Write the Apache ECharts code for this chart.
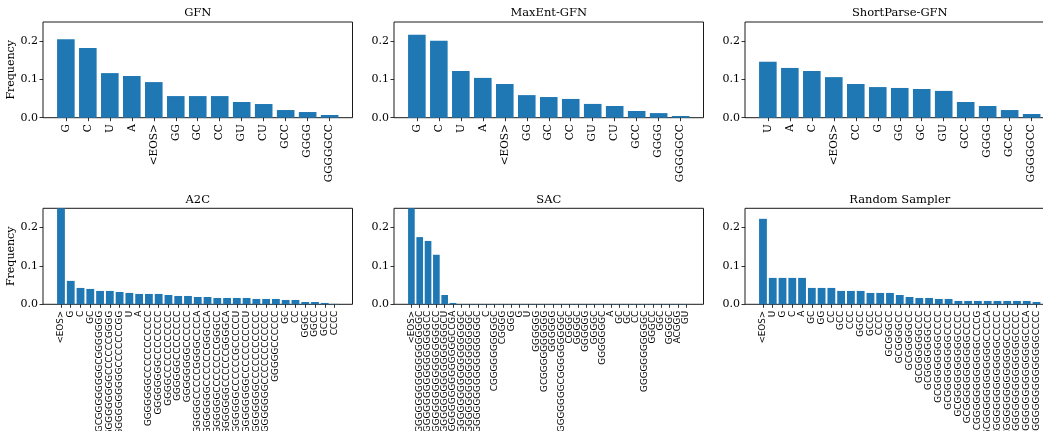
<!DOCTYPE html>
<html>
<head>
<meta charset="utf-8">
<script src="https://cdn.jsdelivr.net/npm/echarts@6/dist/echarts.min.js"></script>
<style>
  html, body { margin: 0; padding: 0; background: #fff; }
  #chart { width: 1043px; height: 431px; }
</style>
</head>
<body>
<div id="chart"></div>
<script>
// Token frequencies per sampler
const gfnLabels = ['G', 'C', 'U', 'A', '<EOS>', 'GG', 'GC', 'CC', 'GU', 'CU', 'GCC', 'GGGG', 'GGGGGCC'];
const gfnValues = [0.205, 0.182, 0.1165, 0.109, 0.093, 0.0565, 0.0565, 0.0565, 0.041, 0.0357, 0.020, 0.0148, 0.007];

const maxEntLabels = ['G', 'C', 'U', 'A', '<EOS>', 'GG', 'GC', 'CC', 'GU', 'CU', 'GCC', 'GGGG', 'GGGGGCC'];
const maxEntValues = [0.2166, 0.2009, 0.122, 0.104, 0.088, 0.059, 0.054, 0.049, 0.036, 0.0305, 0.0175, 0.012, 0.0045];

const shortParseLabels = ['U', 'A', 'C', '<EOS>', 'CC', 'G', 'GG', 'GC', 'GU', 'GCC', 'GGGG', 'GCGC', 'GGGGGCC'];
const shortParseValues = [0.146, 0.130, 0.122, 0.106, 0.088, 0.080, 0.0777, 0.075, 0.070, 0.041, 0.0305, 0.020, 0.0096];

const a2cLabels = ['<EOS>', 'G', 'C', 'GC',
  'GCGCGGGGGGGGCGGGGGGG', 'GGGGGGGGGGCCCCCCGGGG', 'GGGGGGGGGGGCCCCCCCGG',
  'U', 'A',
  'GGGGGGGCCCCCCCCCCC', 'GGGGGGGGCCCCCCCC', 'GGGGCCCCCCCCCCC', 'GGGGGGCCCCCCCC', 'GGGGGGGGCCCCCC',
  'GGGGGGCCCCCGGGGCCCCA', 'GGGGGGGGCCCCCCGGGCCA', 'GGGGGGGCCCCCCCCGGGCC', 'GGGGGGGGCCCCCCGGGGCA',
  'GGGGGGGCCCCCCGCCCCCU', 'GGGGGGGGGCCCCCCCCCCU', 'GGGGGGGGCCCCCCCCCCCC', 'GGGGGGGGCCCCCCCCCCCC',
  'GGGGGCCCCCC', 'GC', 'CC', 'GGGC', 'GGCC', 'GCCC', 'CCCC'];
const a2cValues = [0.38, 0.061, 0.0426, 0.040, 0.0348, 0.0348, 0.032, 0.0296, 0.027, 0.027, 0.027, 0.0243,
  0.0217, 0.0217, 0.019, 0.019, 0.0165, 0.0165, 0.0165, 0.0165, 0.0139, 0.0139, 0.0139, 0.0113, 0.0113,
  0.006, 0.006, 0.0035, 0.001];

const sacLabels = ['<EOS>',
  'GGGGGGGGGGGGGGGGGGGC', 'GGGGGGGGGGGGGGGGGGCC', 'GGGGGGGGGGGGGGGGGGCC', 'GGGGGGGGGGGGGGGGGGCU',
  'GGGGGGGGGGGGGGGGCCGA', 'GGGGGGGGGGGGGGGGGGGC', 'GGGGGGGGGGGGGGGGGGC', 'GGGGGGGGGGGGGGGGGGC',
  'C', 'CGGGGGGGGGGC', 'CGGGG', 'GGG', 'G', 'U', 'GGGGGG', 'GCGGGGGGGGGG', 'GGGGGG',
  'CGGGGGGGCGGGGGGGGGC', 'CGGGC', 'GGGGC', 'GGGGGG', 'GGGGC', 'GGGGGGGC',
  'A', 'GC', 'GC', 'CC', 'GGGGGGGGGGGC', 'GGGCC', 'GGC', 'GGGGC', 'ACGGG', 'GU'];
const sacValues = [0.31, 0.175, 0.165, 0.129, 0.0243, 0.0035,
  0.0008, 0.0008, 0.0008, 0.0008, 0.0008, 0.0008, 0.0008, 0.0008, 0.0008, 0.0008, 0.0008, 0.0008, 0.0008, 0.0008,
  0.0008, 0.0008, 0.0008, 0.0008, 0.0008, 0.0008, 0.0008, 0.0008, 0.0008, 0.0008, 0.0008, 0.0008, 0.0008, 0.0008];

const randomLabels = ['<EOS>', 'U', 'G', 'C', 'A', 'GC', 'GG', 'CC', 'GCC', 'CCC', 'GGCC', 'GCCC', 'CCCC',
  'GCGGGCC', 'GCGGGGCC', 'GCGGGGGCC', 'GCGGGGGGCCC', 'GCGGGGGGGCCC', 'GCGGGGGGGGCCCC', 'GCGGGGGGGGGCCCC',
  'GCGGGGGGGGGGCCCC', 'GCGGGGGGGGGGGCCCC', 'GCGGGGGGGGGGGGCCCCG', 'GCGGGGGGGGGGGGCCCCA', 'GCGGGGGGGGGGGGGCCCCC',
  'GCGGGGGGGGGGGGGCCCCC', 'GCGGGGGGGGGGGGGGCCCC', 'GCGGGGGGGGGGGGGGCCCA', 'GCGGGGGGGGGGGGGGGCCCC'];
const randomValues = [0.2226, 0.0687, 0.0687, 0.0687, 0.0687, 0.0426, 0.0426, 0.0426, 0.0348, 0.0348, 0.0348,
  0.0296, 0.0296, 0.0296, 0.0243, 0.019, 0.0165, 0.0165, 0.0139, 0.0139,
  0.0087, 0.0087, 0.0087, 0.0087, 0.0087, 0.0087, 0.0087, 0.0087, 0.006];

const yTicks = [0, 0.1, 0.2];

const SERIF = 'DejaVu Serif';
const SANS = 'DejaVu Sans';
const BAR_COLOR = '#1f77b4';

const PANEL_W = 309.5;
const COL_LEFT = [43, 394, 745];
const ROWS = [
  { top: 22, height: 95.7, titleTop: 7.5, labelFont: SERIF, labelSize: 10.5 },
  { top: 208.3, height: 96, titleTop: 193.8, labelFont: SANS, labelSize: 8.8 }
];

const panels = [
  { title: 'GFN', labels: gfnLabels, values: gfnValues, row: 0, col: 0 },
  { title: 'MaxEnt-GFN', labels: maxEntLabels, values: maxEntValues, row: 0, col: 1 },
  { title: 'ShortParse-GFN', labels: shortParseLabels, values: shortParseValues, row: 0, col: 2 },
  { title: 'A2C', labels: a2cLabels, values: a2cValues, row: 1, col: 0 },
  { title: 'SAC', labels: sacLabels, values: sacValues, row: 1, col: 1 },
  { title: 'Random Sampler', labels: randomLabels, values: randomValues, row: 1, col: 2 }
];

const grid = [], xAxis = [], yAxis = [], series = [], title = [];

panels.forEach((p, k) => {
  const row = ROWS[p.row];
  const n = p.labels.length;
  // bar-chart x limits: bars 0.8 wide with 5% margins on each side
  const span = n - 0.2;
  const xmin = -0.4 - 0.05 * span;
  const xmax = n - 0.6 + 0.05 * span;
  const barW = 0.8 * PANEL_W / (xmax - xmin);
  const idx = p.labels.map((_, i) => i);
  // blank end slots keep the min/max label pruning away from the real category labels
  const labelSlots = [xmin].concat(idx, [xmax]);

  grid.push({
    left: COL_LEFT[p.col], top: row.top, width: PANEL_W, height: row.height,
    show: true, borderColor: '#1a1a1a', borderWidth: 1, backgroundColor: 'transparent',
    containLabel: false, outerBoundsMode: 'none'
  });

  xAxis.push({
    type: 'value', gridIndex: k, min: xmin, max: xmax, position: 'bottom',
    splitLine: { show: false },
    axisLine: { show: false, onZero: false },
    axisTick: { show: true, length: 3.5, customValues: idx, lineStyle: { color: '#000', width: 0.8 } },
    axisLabel: {
      customValues: labelSlots, rotate: 90, margin: 6.5, hideOverlap: false,
      showMinLabel: false, showMaxLabel: false,
      formatter: v => (Number.isInteger(v) ? p.labels[v] : ''),
      fontFamily: row.labelFont, fontSize: row.labelSize, color: '#000'
    }
  });

  const yAx = {
    type: 'value', gridIndex: k, min: 0, max: 0.25, position: 'left',
    splitLine: { show: false },
    axisLine: { show: false, onZero: false },
    axisTick: { show: true, length: 3.5, customValues: yTicks, lineStyle: { color: '#000', width: 0.8 } },
    axisLabel: {
      customValues: yTicks, margin: 5, showMinLabel: true, showMaxLabel: true,
      formatter: v => v.toFixed(1),
      fontFamily: SERIF, fontSize: 11, color: '#000'
    }
  };
  if (p.col === 0) {
    yAx.name = 'Frequency';
    yAx.nameLocation = 'middle';
    yAx.nameGap = 25;
    yAx.nameTextStyle = { fontFamily: SERIF, fontSize: 11, color: '#000' };
  }
  yAxis.push(yAx);

  series.push({
    type: 'bar', xAxisIndex: k, yAxisIndex: k,
    data: p.values.map((v, i) => [i, v]),
    barWidth: barW, clip: true,
    itemStyle: { color: BAR_COLOR },
    silent: true
  });

  title.push({
    text: p.title,
    left: COL_LEFT[p.col] + PANEL_W / 2, top: row.titleTop,
    textAlign: 'center', padding: 0,
    textStyle: { fontFamily: SERIF, fontSize: 11.5, fontWeight: 'normal', color: '#000' }
  });
});

const chart = echarts.init(document.getElementById('chart'), null, { renderer: 'canvas' });
chart.setOption({
  animation: false,
  backgroundColor: '#fff',
  title, grid, xAxis, yAxis, series
});
</script>
</body>
</html>
